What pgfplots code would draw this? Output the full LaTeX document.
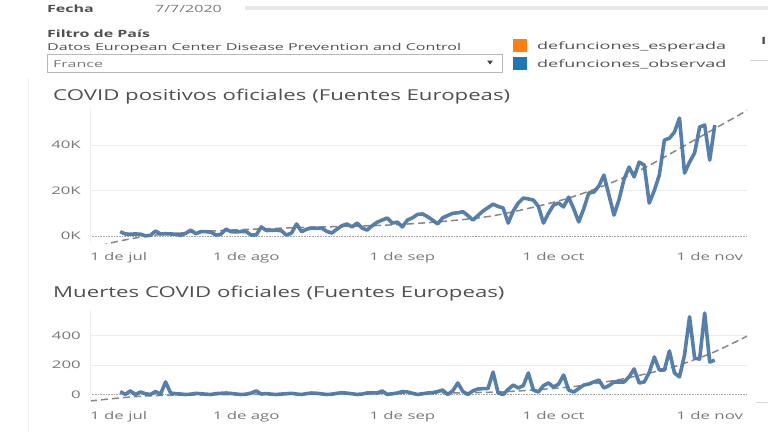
\documentclass[border=0pt]{standalone}
\usepackage{fontspec}
\setmainfont{Open Sans}
\newfontfamily\titlefont{Open Sans}[FakeStretch=1.48]
\newfontfamily\widefont{Open Sans}[FakeStretch=1.6]
\newfontfamily\legfont{Open Sans}[FakeStretch=1.8]
\newfontfamily\srcfont{Open Sans}[FakeStretch=1.69]
\usepackage{pgfplots}
\pgfplotsset{compat=1.18}
\usepackage{pgfplotstable}

\definecolor{lineblue}{RGB}{78,121,167}
\definecolor{trendgray}{RGB}{135,135,135}
\definecolor{txt}{RGB}{80,80,80}
\definecolor{tickgray}{RGB}{120,120,120}
\definecolor{gridgray}{RGB}{236,236,236}
\definecolor{legorange}{RGB}{255,127,14}
\definecolor{legblue}{RGB}{31,119,180}

% daily positives, thousands
\pgfplotstableread{
day v
6 1.9
7 0.9
8 0.8
9 0.9
10 0.8
11 0.1
12 0.3
13 2.2
14 0.9
15 1.0
16 0.9
17 0.8
18 0.3
19 1.2
20 2.6
21 1.0
22 1.9
23 1.9
24 1.7
25 0.4
26 0.8
27 3.0
28 1.9
29 1.8
30 2.0
31 1.9
32 0.4
33 0.5
34 4.0
35 2.4
36 2.5
37 2.6
38 2.3
39 0.4
40 1.3
41 5.3
42 1.9
43 3.0
44 3.5
45 3.4
46 3.5
47 2.0
48 1.3
49 3.0
50 4.5
51 5.3
52 4.0
53 5.7
54 3.5
55 2.6
56 4.5
57 6.1
58 7.0
59 7.9
60 5.7
61 6.1
62 4.0
63 7.0
64 8.0
65 9.5
66 9.7
67 8.5
68 7.0
69 5.3
70 8.0
71 9.0
72 10.0
73 10.2
74 10.7
75 9.0
76 7.0
77 9.0
78 11.0
79 12.5
80 14.0
81 13.0
82 12.3
83 5.7
84 11.0
85 14.5
86 16.7
87 16.3
88 15.8
89 13.0
90 5.7
91 10.0
92 13.6
93 14.5
94 12.8
95 17.1
96 12.0
97 6.2
98 12.0
99 18.9
100 19.3
101 22.0
102 26.8
103 18.0
104 9.2
105 16.0
106 25.0
107 30.3
108 26.0
109 32.5
110 31.2
111 14.5
112 20.0
113 26.8
114 42.2
115 43.0
116 45.7
117 51.9
118 27.7
119 32.5
120 36.5
121 47.9
122 48.8
123 33.4
124 48.8
}\casesdata

% daily deaths
\pgfplotstableread{
day v
6 19
7 1
8 24
9 0
10 17
11 5
12 0
13 20
14 2
15 85
16 10
17 5
18 3
19 0
20 2
21 8
22 5
23 2
24 0
25 6
26 8
27 10
28 7
29 3
30 0
31 2
32 10
33 24
34 3
35 6
36 2
37 0
38 3
39 5
40 8
41 3
42 0
43 6
44 10
45 8
46 4
47 0
48 2
49 8
50 12
51 9
52 5
53 0
54 3
55 10
56 12
57 10
58 24
59 0
60 5
61 10
62 20
63 17
64 8
65 0
66 5
67 10
68 12
69 20
70 30
71 0
72 25
73 78
74 20
75 0
76 25
77 37
78 40
79 40
80 152
81 10
82 0
83 35
84 64
85 44
86 60
87 146
88 30
89 17
90 60
91 78
92 51
93 70
94 132
95 30
96 17
97 40
98 64
99 71
100 85
101 98
102 44
103 60
104 85
105 85
106 85
107 120
108 173
109 78
110 85
111 150
112 254
113 166
114 166
115 295
116 146
117 119
118 268
119 527
120 247
121 240
122 552
123 220
124 233
}\deathsdata

\pgfplotsset{
  covid/.style={
    scale only axis, width=657bp, xmin=0, xmax=130.4,
    anchor=south west,
    axis line style={draw=none},
    major tick length=0pt,
    xtick={31,62,92,123},
    xticklabels={1 de ago,1 de sep,1 de oct,1 de nov},
    extra x ticks={0},
    extra x tick labels={1 de jul},
    extra x tick style={xticklabel style={anchor=north west}},
    tick label style={font=\widefont\fontsize{10.5bp}{12bp}\selectfont, text=tickgray},
    xticklabel style={anchor=north, inner sep=0pt, yshift=-9bp},
    yticklabel style={anchor=east, inner sep=0pt, xshift=-9bp},
    ymajorgrids, major grid style={draw=gridgray, line width=0.6bp},
    extra y ticks={0},
    extra y tick style={ymajorgrids=true, major grid style={draw=gray!70, densely dotted, line width=0.8bp}},
  },
  obs/.style={lineblue, line width=3.6bp, line join=round, opacity=0.95},
  trendline/.style={trendgray, line width=1.5bp, dash pattern=on 7bp off 4bp, smooth},
}

\begin{document}
\begin{tikzpicture}
\fill[white] (0,0) rectangle (768bp,-432bp);
\useasboundingbox (0,0) rectangle (768bp,-432bp);

% header
\node[anchor=base west, inner sep=0, text=txt, font=\widefont\bfseries\fontsize{10bp}{12bp}\selectfont] at (47bp,-12bp) {Fecha};
\node[anchor=base west, inner sep=0, text=tickgray, font=\widefont\fontsize{10bp}{12bp}\selectfont] at (155bp,-12bp) {7/7/2020};
\draw[gray!18, line width=4bp] (245bp,-8bp) -- (768bp,-8bp);
\node[anchor=base west, inner sep=0, text=txt, font=\widefont\bfseries\fontsize{10bp}{12bp}\selectfont] at (47bp,-37bp) {Filtro de País};
\node[anchor=base west, inner sep=0, text=txt, font=\srcfont\fontsize{9.5bp}{12bp}\selectfont] at (47bp,-50bp) {Datos European Center Disease Prevention and Control};
\draw[gray!55, line width=0.7bp, fill=white] (47bp,-54bp) rectangle (502bp,-72bp);
\node[anchor=base west, inner sep=0, text=tickgray, font=\srcfont\fontsize{9.5bp}{12bp}\selectfont] at (53bp,-67bp) {France};
\fill[black!75] (487bp,-60.5bp) -- (493bp,-60.5bp) -- (490bp,-64.5bp) -- cycle;
\fill[legorange] (513bp,-39bp) rectangle (527bp,-52bp);
\fill[legblue] (513bp,-57bp) rectangle (527bp,-70bp);
\node[anchor=base west, inner sep=0, text=txt, font=\legfont\fontsize{10bp}{12bp}\selectfont] at (537bp,-49bp) {defunciones\_esperada};
\node[anchor=base west, inner sep=0, text=txt, font=\legfont\fontsize{10bp}{12bp}\selectfont] at (537bp,-67bp) {defunciones\_observad};
\node[anchor=base west, inner sep=0, text=txt, font=\widefont\bfseries\fontsize{10bp}{12bp}\selectfont] at (761bp,-44bp) {I};
\draw[gray!35, line width=0.8bp] (750bp,-60bp) -- (768bp,-60bp);
\draw[gray!12, line width=0.8bp] (28bp,-78bp) -- (28bp,-432bp);
\draw[gray!30, line width=0.8bp] (756bp,-402bp) -- (768bp,-402bp);

% titles
\node[anchor=base west, inner sep=0, text=txt, font=\titlefont\fontsize{15bp}{18bp}\selectfont] at (53bp,-100bp) {COVID positivos oficiales (Fuentes Europeas)};
\node[anchor=base west, inner sep=0, text=txt, font=\titlefont\fontsize{15bp}{18bp}\selectfont] at (53bp,-297bp) {Muertes COVID oficiales (Fuentes Europeas)};

\begin{axis}[covid, at={(90bp,-243bp)}, height=135bp,
  ymin=-3.08, ymax=56.3,
  ytick={20,40}, yticklabels={20K,40K}, extra y tick labels={0K}]
  \addplot[trendline] coordinates {(0,-5.8)(5,-2.6)(13,0.4)(26,2.4)(40,3.6)(52,4.3)(61,5.0)(71,6.6)(81,9.3)(95,16.7)(108,27.7)(121,43.5)(131,56)};
  \addplot[obs] table[x=day, y=v] {\casesdata};
  \draw[gray!12, line width=0.8bp] (rel axis cs:0,0) -- (rel axis cs:0,1);
\end{axis}

\begin{axis}[covid, at={(90bp,-402bp)}, height=92bp,
  ymin=-51, ymax=573,
  ytick={200,400}, yticklabels={200,400}, extra y tick labels={0}]
  \addplot[trendline] coordinates {(0,-44)(10,-12)(20,-3)(35,2)(50,5)(65,9)(81,17)(95,50)(104,95)(108,122)(114,170)(118,212)(124,290)(131,405)};
  \addplot[obs] table[x=day, y=v] {\deathsdata};
  \draw[gray!12, line width=0.8bp] (rel axis cs:0,0) -- (rel axis cs:0,1);
\end{axis}
\end{tikzpicture}
\end{document}
